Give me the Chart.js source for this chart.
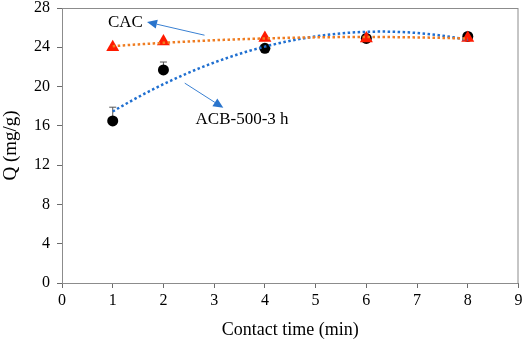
<!DOCTYPE html>
<html>
<head>
<meta charset="utf-8">
<script src="https://cdn.jsdelivr.net/npm/chart.js@4.4.0/dist/chart.umd.min.js"></script>
<style>
  body { margin: 0; background: #fff; }
  #wrap { width: 526px; height: 341px; }
</style>
</head>
<body>
<div id="wrap"><canvas id="chart" width="526" height="341"></canvas></div>
<script>
// contact time (min)
const times = [1, 2, 4, 6, 8];
// Q (mg/g)
const acbValues = [16.5, 21.7, 23.9, 24.9, 25.1];
const acbErrors = [1.4, 0.8, 0.2, 0.3, 0.2];
const cacValues = [24.0, 24.6, 24.95, 24.9, 24.95];
const xTicks = [0, 1, 2, 3, 4, 5, 6, 7, 8, 9];
const yTicks = [0, 4, 8, 12, 16, 20, 24, 28];

const serif = "'Liberation Serif', 'Times New Roman', serif";
const axisColor = '#6b6b6b';

// 2nd order polynomial trendline (least squares), like the Excel one
function polyFit2(xs, ys) {
  let s = [0, 0, 0, 0, 0], t = [0, 0, 0];
  xs.forEach((x, i) => {
    for (let k = 0; k < 5; k++) s[k] += Math.pow(x, k);
    for (let k = 0; k < 3; k++) t[k] += Math.pow(x, k) * ys[i];
  });
  const m = [[s[0], s[1], s[2], t[0]], [s[1], s[2], s[3], t[1]], [s[2], s[3], s[4], t[2]]];
  for (let i = 0; i < 3; i++) {
    for (let j = i + 1; j < 3; j++) {
      const f = m[j][i] / m[i][i];
      for (let k = i; k < 4; k++) m[j][k] -= f * m[i][k];
    }
  }
  const c = [0, 0, 0];
  for (let i = 2; i >= 0; i--) {
    let v = m[i][3];
    for (let k = i + 1; k < 3; k++) v -= m[i][k] * c[k];
    c[i] = v / m[i][i];
  }
  return c;
}
function trendPoints(xs, ys) {
  const c = polyFit2(xs, ys);
  const pts = [];
  for (let x = xs[0]; x <= xs[xs.length - 1] + 1e-9; x += 0.1) {
    pts.push({ x: x, y: c[0] + c[1] * x + c[2] * x * x });
  }
  return pts;
}

const toXY = (vals) => vals.map((v, i) => ({ x: times[i], y: v }));

// plot frame + error bars
const framePlugin = {
  id: 'frame',
  beforeDatasetsDraw(chart) {
    const { ctx, chartArea: a, scales } = chart;
    ctx.save();
    ctx.strokeStyle = '#8c8c8c';
    ctx.lineWidth = 1;
    ctx.strokeRect(a.left + 0.5, a.top + 0.5, a.right - a.left - 1, a.bottom - a.top);
    // error bars (plus direction only)
    ctx.strokeStyle = '#555';
    times.forEach((t, i) => {
      const x = scales.x.getPixelForValue(t);
      const y0 = scales.y.getPixelForValue(acbValues[i]);
      const y1 = scales.y.getPixelForValue(acbValues[i] + acbErrors[i]);
      ctx.beginPath();
      ctx.moveTo(x, y0);
      ctx.lineTo(x, y1);
      ctx.moveTo(x - 3.5, y1);
      ctx.lineTo(x + 3.5, y1);
      ctx.stroke();
    });
    ctx.restore();
  }
};

// text labels with arrows
const labels = [
  { text: 'CAC', at: [1.25, 26.55], from: [2.81, 25.23], to: [1.676, 26.58] },
  { text: 'ACB-500-3 h', at: [3.55, 16.6], from: [2.42, 20.35], to: [3.18, 17.84] }
];
const notePlugin = {
  id: 'notes',
  afterDatasetsDraw(chart) {
    const { ctx, scales } = chart;
    ctx.save();
    labels.forEach(l => {
      ctx.fillStyle = '#000';
      ctx.font = '17px ' + serif;
      ctx.textAlign = 'center';
      ctx.textBaseline = 'middle';
      ctx.fillText(l.text, scales.x.getPixelForValue(l.at[0]), scales.y.getPixelForValue(l.at[1]));
      const x0 = scales.x.getPixelForValue(l.from[0]), y0 = scales.y.getPixelForValue(l.from[1]);
      const x1 = scales.x.getPixelForValue(l.to[0]), y1 = scales.y.getPixelForValue(l.to[1]);
      const ang = Math.atan2(y1 - y0, x1 - x0);
      const len = 10, half = 4.5;
      const bx = x1 - len * Math.cos(ang), by = y1 - len * Math.sin(ang);
      ctx.strokeStyle = '#3a80d2';
      ctx.fillStyle = '#2a74cc';
      ctx.lineWidth = 1;
      ctx.beginPath();
      ctx.moveTo(x0, y0);
      ctx.lineTo(bx, by);
      ctx.stroke();
      ctx.beginPath();
      ctx.moveTo(x1, y1);
      ctx.lineTo(bx + half * Math.sin(ang), by - half * Math.cos(ang));
      ctx.lineTo(bx - half * Math.sin(ang), by + half * Math.cos(ang));
      ctx.closePath();
      ctx.fill();
    });
    ctx.restore();
  }
};

new Chart(document.getElementById('chart'), {
  type: 'scatter',
  data: {
    datasets: [
      {
        label: 'CAC trend',
        type: 'line',
        data: trendPoints(times, cacValues),
        borderColor: '#ef7d22',
        borderWidth: 2.5,
        borderDash: [2.5, 2.5],
        pointRadius: 0,
        fill: false,
        order: 0
      },
      {
        label: 'ACB trend',
        type: 'line',
        data: trendPoints(times, acbValues),
        borderColor: '#1f6fd0',
        borderWidth: 2.5,
        borderDash: [2.5, 2.5],
        pointRadius: 0,
        fill: false,
        order: 1
      },
      {
        label: 'CAC',
        data: toXY(cacValues),
        pointStyle: 'triangle',
        pointRadius: 7.5,
        backgroundColor: '#ff1a00',
        borderColor: '#ff1a00',
        borderWidth: 0,
        order: 2
      },
      {
        label: 'ACB-500-3 h',
        data: toXY(acbValues),
        pointStyle: 'circle',
        pointRadius: 5.5,
        backgroundColor: '#000',
        borderColor: '#000',
        borderWidth: 0,
        order: 3
      }
    ]
  },
  options: {
    responsive: false,
    animation: false,
    layout: { padding: { top: 8, right: 5, left: 0, bottom: 0 } },
    plugins: {
      legend: { display: false },
      tooltip: { enabled: false }
    },
    scales: {
      x: {
        type: 'linear',
        min: 0,
        max: 9,
        afterBuildTicks: (s) => { s.ticks = xTicks.map(v => ({ value: v })); },
        afterFit: (s) => { s.height = 58; s.paddingLeft = 0; s.paddingRight = 0; },
        grid: { drawOnChartArea: false, tickLength: 5, color: axisColor },
        border: { color: axisColor },
        ticks: { color: '#000', font: { family: serif, size: 16 }, padding: 3, maxRotation: 0 },
        title: { display: true, text: 'Contact time (min)', color: '#000', font: { family: serif, size: 18 }, padding: { top: 0, bottom: 0 } }
      },
      y: {
        type: 'linear',
        min: 0,
        max: 28,
        afterBuildTicks: (s) => { s.ticks = yTicks.map(v => ({ value: v })); },
        afterFit: (s) => { s.width = 62; s.paddingTop = 0; s.paddingBottom = 0; },
        grid: { drawOnChartArea: false, tickLength: 5, color: axisColor },
        border: { color: axisColor },
        ticks: { color: '#000', font: { family: serif, size: 16 }, padding: 7 },
        title: { display: true, text: 'Q (mg/g)', color: '#000', font: { family: serif, size: 19 }, padding: { top: 0, bottom: 0 } }
      }
    }
  },
  plugins: [framePlugin, notePlugin]
});
</script>
</body>
</html>
